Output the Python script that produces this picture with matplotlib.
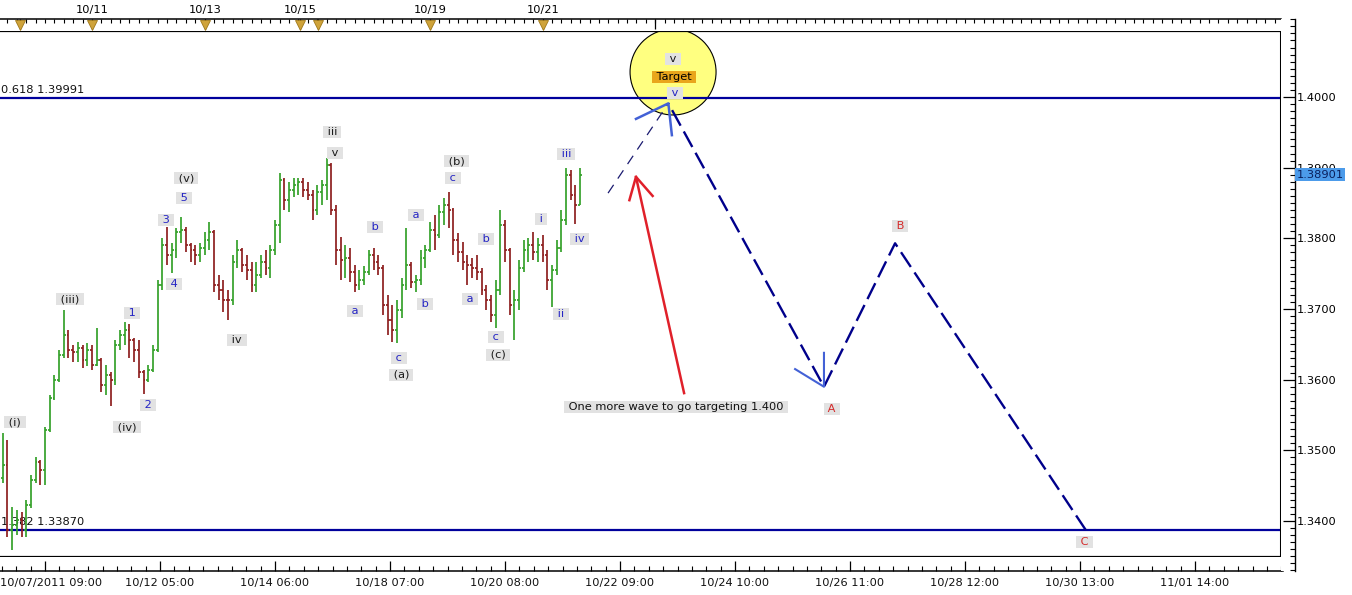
import numpy as np
import matplotlib
matplotlib.use("Agg")
import matplotlib.pyplot as plt
import matplotlib.transforms as mtransforms
from matplotlib.collections import LineCollection
from matplotlib.patches import Ellipse
from matplotlib.ticker import FixedLocator, MultipleLocator

plt.rcParams['font.family'] = ['DejaVu Sans']
plt.rcParams['font.size'] = 8.2

# EUR/USD style 2-hour OHLC bars, x = trading hours since 10/07/2011 09:00
first_open = 1.3461
highs = [1.3525, 1.3515, 1.3420, 1.3416, 1.3413, 1.3430, 1.3465, 1.3491, 1.3486, 1.3533,
         1.3578, 1.3607, 1.3642, 1.3699, 1.3670, 1.3649, 1.3653, 1.3649, 1.3652, 1.3649,
         1.3673, 1.3631, 1.3621, 1.3611, 1.3656, 1.3670, 1.3682, 1.3679, 1.3659, 1.3656,
         1.3614, 1.3621, 1.3649, 1.3741, 1.3800, 1.3816, 1.3793, 1.3815, 1.3830, 1.3816,
         1.3793, 1.3791, 1.3793, 1.3809, 1.3823, 1.3812, 1.3748, 1.3741, 1.3727, 1.3776,
         1.3798, 1.3786, 1.3776, 1.3767, 1.3767, 1.3776, 1.3784, 1.3791, 1.3826, 1.3892,
         1.3885, 1.3880, 1.3885, 1.3885, 1.3885, 1.3880, 1.3868, 1.3875, 1.3883, 1.3914,
         1.3907, 1.3847, 1.3802, 1.3791, 1.3786, 1.3762, 1.3755, 1.3761, 1.3784, 1.3786,
         1.3776, 1.3762, 1.3720, 1.3706, 1.3713, 1.3744, 1.3815, 1.3767, 1.3748, 1.3784,
         1.3791, 1.3823, 1.3833, 1.3847, 1.3857, 1.3866, 1.3843, 1.3808, 1.3795, 1.3776,
         1.3772, 1.3776, 1.3758, 1.3734, 1.3720, 1.3741, 1.3840, 1.3826, 1.3786, 1.3727,
         1.3769, 1.3798, 1.3800, 1.3809, 1.3800, 1.3805, 1.3784, 1.3762, 1.3798, 1.3840,
         1.3900, 1.3897, 1.3875, 1.3900]
lows = [1.3454, 1.3377, 1.3359, 1.3380, 1.3377, 1.3377, 1.3418, 1.3454, 1.3451, 1.3451,
        1.3526, 1.3571, 1.3597, 1.3631, 1.3631, 1.3625, 1.3625, 1.3617, 1.3619, 1.3614,
        1.3619, 1.3583, 1.3578, 1.3563, 1.3592, 1.3642, 1.3649, 1.3631, 1.3625, 1.3602,
        1.3580, 1.3597, 1.3611, 1.3639, 1.3727, 1.3762, 1.3751, 1.3772, 1.3793, 1.3781,
        1.3767, 1.3762, 1.3767, 1.3776, 1.3784, 1.3724, 1.3713, 1.3696, 1.3684, 1.3706,
        1.3758, 1.3752, 1.3741, 1.3724, 1.3724, 1.3744, 1.3748, 1.3744, 1.3776, 1.3793,
        1.3840, 1.3837, 1.3859, 1.3861, 1.3859, 1.3854, 1.3826, 1.3833, 1.3847, 1.3854,
        1.3833, 1.3762, 1.3741, 1.3744, 1.3738, 1.3724, 1.3727, 1.3734, 1.3748, 1.3755,
        1.3748, 1.3692, 1.3663, 1.3653, 1.3652, 1.3687, 1.3727, 1.3730, 1.3724, 1.3734,
        1.3758, 1.3781, 1.3784, 1.3800, 1.3819, 1.3815, 1.3776, 1.3767, 1.3755, 1.3734,
        1.3744, 1.3741, 1.3720, 1.3699, 1.3682, 1.3673, 1.3720, 1.3767, 1.3692, 1.3656,
        1.3699, 1.3752, 1.3767, 1.3769, 1.3767, 1.3767, 1.3727, 1.3703, 1.3748, 1.3781,
        1.3819, 1.3854, 1.3820, 1.3847]
closes = [1.3479, 1.3387, 1.3394, 1.3401, 1.3387, 1.3423, 1.3458, 1.3484, 1.3472, 1.3529,
          1.3574, 1.3600, 1.3635, 1.3663, 1.3642, 1.3639, 1.3645, 1.3628, 1.3642, 1.3621,
          1.3628, 1.3592, 1.3607, 1.3600, 1.3649, 1.3663, 1.3670, 1.3656, 1.3642, 1.3611,
          1.3600, 1.3614, 1.3642, 1.3734, 1.3791, 1.3776, 1.3784, 1.3809, 1.3812, 1.3791,
          1.3784, 1.3776, 1.3786, 1.3798, 1.3809, 1.3734, 1.3727, 1.3713, 1.3713, 1.3767,
          1.3784, 1.3762, 1.3755, 1.3734, 1.3748, 1.3767, 1.3758, 1.3784, 1.3819, 1.3883,
          1.3854, 1.3868, 1.3875, 1.3880, 1.3868, 1.3861, 1.3840, 1.3866, 1.3875, 1.3904,
          1.3840, 1.3784, 1.3769, 1.3772, 1.3752, 1.3734, 1.3741, 1.3752, 1.3776, 1.3767,
          1.3758, 1.3706, 1.3684, 1.3670, 1.3699, 1.3734, 1.3762, 1.3738, 1.3741, 1.3772,
          1.3784, 1.3812, 1.3805, 1.3837, 1.3847, 1.3840, 1.3798, 1.3781, 1.3767, 1.3762,
          1.3758, 1.3752, 1.3727, 1.3713, 1.3692, 1.3727, 1.3819, 1.3784, 1.3706, 1.3713,
          1.3758, 1.3784, 1.3791, 1.3781, 1.3791, 1.3776, 1.3741, 1.3755, 1.3786, 1.3826,
          1.3890, 1.3861, 1.3847, 1.3890]
last_price = 1.38901

# fibonacci levels
fib_levels = [1.39991, 1.33870]
fib_texts = ["0.618 1.39991", "1.382 1.33870"]

# axis labels
date_ticks = [0, 49, 98, 147, 196, 245, 294, 343, 392, 441, 490]
date_labels = ["10/07/2011 09:00", "10/12 05:00", "10/14 06:00", "10/18 07:00", "10/20 08:00",
               "10/22 09:00", "10/24 10:00", "10/26 11:00", "10/28 12:00", "10/30 13:00",
               "11/01 14:00"]
event_hours = [-10.7, 20.0, 68.2, 108.6, 116.3, 164.0, 212.2, 259.9]
event_labels = ["", "10/11", "10/13", "10/15", "", "10/19", "10/21", ""]
price_ticks = [1.34, 1.35, 1.36, 1.37, 1.38, 1.39, 1.40]

# projected wave path (hours, price), drawn from C back to the target
lead_hours = [239.9, 265.6]
lead_prices = [1.3864, 1.3991]
wave_hours = [443.5, 362.2, 331.9, 265.6]
wave_prices = [1.3387, 1.3793, 1.3590, 1.3991]

# wave labels: text, hour, price, colour
BLK, BLU, RED = '#1a1a1a', '#2424c4', '#d42a2a'
wave_labels = [
    ("(i)", -12.8, 1.3540, BLK), ("(iii)", 10.6, 1.3714, BLK), ("1", 37.1, 1.3694, BLU),
    ("2", 43.9, 1.3564, BLU), ("(iv)", 34.9, 1.3533, BLK), ("3", 51.5, 1.3826, BLU),
    ("4", 55.0, 1.3735, BLU), ("5", 59.2, 1.3857, BLU), ("(v)", 60.1, 1.3885, BLK),
    ("iv", 81.8, 1.3656, BLK), ("iii", 122.3, 1.3950, BLK), ("v", 123.6, 1.3921, BLK),
    ("b", 140.6, 1.3816, BLU), ("a", 132.1, 1.3697, BLU), ("c", 150.8, 1.3631, BLU),
    ("(a)", 151.7, 1.3607, BLK), ("a", 158.1, 1.3833, BLU), ("b", 161.9, 1.3707, BLU),
    ("(b)", 175.5, 1.3909, BLK), ("c", 173.8, 1.3885, BLU), ("b", 187.9, 1.3799, BLU),
    ("a", 181.1, 1.3714, BLU), ("c", 192.2, 1.3660, BLU), ("(c)", 193.0, 1.3635, BLK),
    ("i", 211.3, 1.3827, BLU), ("iii", 222.0, 1.3919, BLU), ("iv", 227.9, 1.3799, BLU),
    ("ii", 219.9, 1.3693, BLU), ("A", 335.3, 1.3558, RED), ("B", 364.3, 1.3818, RED),
    ("C", 443.1, 1.3370, RED), ("v", 267.6, 1.4054, BLK), ("v", 268.4, 1.4006, BLU),
]

W, H = 1352, 595


def hx(px):
    return (px - 45) / 2.347


def py(row):
    return 1.4 - (row - 97) / 7067.0


def rect(x0, y0, x1, y1):
    return [x0 / W, 1 - y1 / H, (x1 - x0) / W, (y1 - y0) / H]


fig = plt.figure(figsize=(13.52, 5.95), dpi=100)
fig.patch.set_facecolor('white')

ax = fig.add_axes(rect(0, 31, 1281, 557))
ax.set_xlim(hx(0), hx(1281))
ax.set_ylim(py(557), py(31))
ax.set_xticks([])
ax.set_yticks([])
ax.spines['left'].set_visible(False)
ax.spines['top'].set_linewidth(1.6)
ax.spines['bottom'].set_linewidth(1.6)
ax.spines['right'].set_linewidth(2.2)

# bars
bar_hours = np.arange(-18, -18 + 2 * len(closes), 2)
opens = [first_open] + closes[:-1]
segs, cols = [], []
for x, o, h, l, c in zip(bar_hours, opens, highs, lows, closes):
    col = '#35a12a' if c > o else '#8e1f1f'
    segs += [[(x, l), (x, h)], [(x - 0.8, o), (x, o)], [(x, c), (x + 0.8, c)]]
    cols += [col] * 3
ax.add_collection(LineCollection(segs, colors=cols, linewidths=1.25, zorder=4))

# target circle
ax.add_patch(Ellipse((267.6, 1.40354), 2 * 43 / 2.347, 2 * 43 / 7067.0,
                     fc='#ffff80', ec='black', lw=0.8, zorder=1))

for lvl, txt in zip(fib_levels, fib_texts):
    ax.axhline(lvl, color='#00009c', lw=1.6, zorder=2)
    ax.annotate(txt, (hx(1), lvl), xytext=(0, 2), textcoords='offset points',
                va='bottom', ha='left', color='#111111', zorder=3)

# projection
ax.plot(lead_hours, lead_prices, color='#1a1a70', lw=0.9, ls=(0, (8, 6)), zorder=5)
ax.plot(wave_hours, wave_prices, color='#00008b', lw=1.7, ls=(0, (7.5, 2.8)), zorder=5)
ax.plot([251.8, 265.6, 267.1], [1.3969, 1.3991, 1.3946], color='#4361d6', lw=1.8, zorder=6)
ax.plot([319.6, 331.9, 331.9], [1.3615, 1.3590, 1.3638], color='#4361d6', lw=1.5, zorder=6)

# red arrow
ax.plot([272.3, 251.8], [1.3581, 1.3887], color='#e0202a', lw=1.8, zorder=6)
ax.plot([249.0, 251.8, 258.9], [1.3854, 1.3887, 1.3860], color='#e0202a', lw=1.8, zorder=6)

box = dict(boxstyle='square,pad=0.08', fc='#e2e2e2', ec='none')
for txt, x, y, c in wave_labels:
    ax.text(x, y, f" {txt} ", color=c, ha='center', va='center', bbox=box, zorder=7)
ax.text(268.0, 1.4028, " Target ", color='black', ha='center', va='center', zorder=7,
        bbox=dict(boxstyle='square,pad=0.08', fc='#e9a61c', ec='none'))
ax.text(268.9, 1.3561, " One more wave to go targeting 1.400 ", color='#111111',
        ha='center', va='center', bbox=box, zorder=7)

# bottom ruler
axb = fig.add_axes(rect(0, 557, 1283, 571))
axb.set_xlim(hx(0), hx(1283))
axb.set_ylim(0, 1)
for s in ['top', 'left', 'right']:
    axb.spines[s].set_visible(False)
axb.spines['bottom'].set_linewidth(1.1)
axb.set_yticks([])
axb.set_xticks(date_ticks)
axb.set_xticklabels([])
axb.xaxis.set_minor_locator(MultipleLocator(49 / 8))
axb.tick_params(axis='x', which='major', direction='in', length=7.5, width=0.9)
axb.tick_params(axis='x', which='minor', direction='in', length=3.5, width=0.8)
tb = mtransforms.blended_transform_factory(axb.transData, axb.transAxes)
for i, (t, lab) in enumerate(zip(date_ticks, date_labels)):
    if i == 0:
        axb.text(hx(0), -0.86, lab, ha='left', va='center', transform=tb, color='#111111')
    else:
        axb.text(t, -0.86, lab, ha='center', va='center', transform=tb, color='#111111')

# top ruler
axt = fig.add_axes(rect(0, 19, 1281, 31))
axt.set_xlim(hx(0), hx(1281))
axt.set_ylim(0, 1)
for s in ['bottom', 'left', 'right']:
    axt.spines[s].set_visible(False)
axt.spines['top'].set_linewidth(1.1)
axt.set_yticks([])
axt.xaxis.tick_top()
axt.set_xticks(event_hours)
axt.set_xticklabels(event_labels)
axt.xaxis.set_minor_locator(MultipleLocator(4))
axt.tick_params(axis='x', which='major', direction='in', length=7, width=0.9, pad=3)
axt.tick_params(axis='x', which='minor', direction='in', length=3, width=0.8)
axt.plot(event_hours[:-1], [0.5] * (len(event_hours) - 1), 'v', ms=6.5,
         mfc='#cfa33a', mec='#a07818', mew=0.6, clip_on=False)

# right ruler
axr = fig.add_axes(rect(1281, 19, 1295, 571))
axr.set_ylim(py(571), py(19))
axr.set_xlim(0, 1)
for s in ['top', 'bottom', 'left']:
    axr.spines[s].set_visible(False)
axr.spines['right'].set_linewidth(1.0)
axr.set_xticks([])
axr.yaxis.tick_right()
axr.yaxis.set_major_locator(FixedLocator(price_ticks))
axr.set_yticklabels([f"{p:.4f}" for p in price_ticks])
axr.yaxis.set_minor_locator(MultipleLocator(0.001))
axr.tick_params(axis='y', which='major', direction='in', length=8.5, width=0.9, pad=1.5)
axr.tick_params(axis='y', which='minor', direction='in', length=3.5, width=0.8)
tr = mtransforms.blended_transform_factory(axr.transAxes, axr.transData)
axr.text(1.12, last_price, f"{last_price:.5f}", transform=tr, ha='left', va='center',
         color='#0a1f5c', clip_on=False, zorder=5,
         bbox=dict(boxstyle='square,pad=0.12', fc='#4c9bea', ec='none'))

fig.savefig("out.png", dpi=100, facecolor='white')
